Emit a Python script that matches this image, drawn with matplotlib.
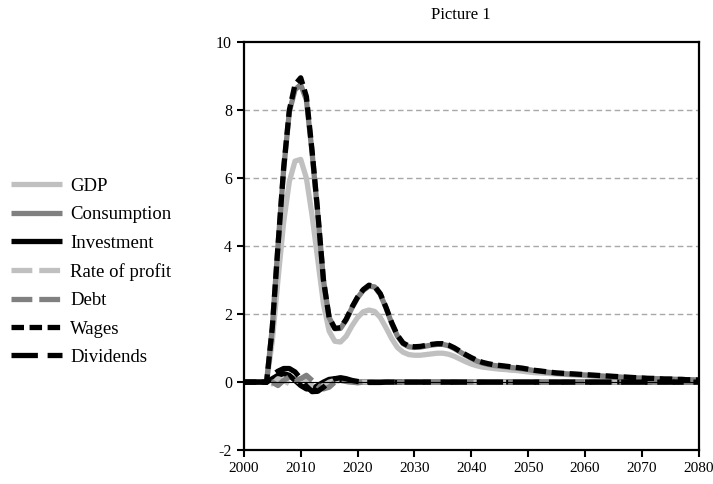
import numpy as np
import matplotlib
matplotlib.use("Agg")
import matplotlib.pyplot as plt

plt.rcParams["font.family"] = ["Liberation Serif", "DejaVu Serif"]
plt.rcParams["lines.scale_dashes"] = False
plt.rcParams["axes.unicode_minus"] = False

# annual data 2000-2080
years = np.arange(2000, 2081)

gdp = [
    0.00, 0.00, 0.00, 0.00, 0.00, 1.20, 3.00, 4.70, 5.90, 6.50,
    6.55, 6.00, 4.90, 3.60, 2.30, 1.50, 1.20, 1.18, 1.35, 1.65,
    1.90, 2.07, 2.12, 2.08, 1.90, 1.60, 1.28, 1.02, 0.88, 0.81,
    0.79, 0.79, 0.81, 0.83, 0.85, 0.85, 0.82, 0.76, 0.68, 0.60,
    0.53, 0.48, 0.44, 0.42, 0.40, 0.38, 0.37, 0.35, 0.34, 0.32,
    0.30, 0.28, 0.27, 0.26, 0.25, 0.24, 0.23, 0.22, 0.21, 0.20,
    0.19, 0.18, 0.17, 0.16, 0.15, 0.14, 0.14, 0.13, 0.12, 0.12,
    0.11, 0.10, 0.10, 0.09, 0.09, 0.08, 0.08, 0.07, 0.07, 0.06,
    0.06,
]
consumption = [
    0.00, 0.00, 0.00, 0.00, 0.00, 1.60, 4.00, 6.25, 7.95, 8.60,
    8.75, 8.30, 6.75, 4.95, 3.00, 1.90, 1.57, 1.58, 1.83, 2.18,
    2.48, 2.70, 2.82, 2.80, 2.58, 2.18, 1.73, 1.36, 1.13, 1.04,
    1.02, 1.03, 1.06, 1.09, 1.11, 1.11, 1.07, 0.99, 0.89, 0.79,
    0.70, 0.62, 0.56, 0.52, 0.49, 0.47, 0.45, 0.43, 0.41, 0.39,
    0.37, 0.34, 0.32, 0.30, 0.28, 0.26, 0.25, 0.24, 0.23, 0.22,
    0.21, 0.20, 0.19, 0.18, 0.17, 0.16, 0.15, 0.14, 0.13, 0.12,
    0.12, 0.11, 0.10, 0.10, 0.09, 0.09, 0.08, 0.08, 0.07, 0.07,
    0.06,
]
investment = [
    0.00, 0.00, 0.00, 0.00, 0.00, 0.10, 0.20, 0.25, 0.20, 0.05,
    -0.10, -0.20, -0.20, -0.10, 0.00, 0.08, 0.10, 0.08, 0.04, 0.02,
    0.00, 0.00, 0.00, 0.00, 0.00, 0.00, 0.00, 0.00, 0.00, 0.00,
    0.00, 0.00, 0.00, 0.00, 0.00, 0.00, 0.00, 0.00, 0.00, 0.00,
    0.00, 0.00, 0.00, 0.00, 0.00, 0.00, 0.00, 0.00, 0.00, 0.00,
    0.00, 0.00, 0.00, 0.00, 0.00, 0.00, 0.00, 0.00, 0.00, 0.00,
    0.00, 0.00, 0.00, 0.00, 0.00, 0.00, 0.00, 0.00, 0.00, 0.00,
    0.00, 0.00, 0.00, 0.00, 0.00, 0.00, 0.00, 0.00, 0.00, 0.00,
    0.00,
]
rate_of_profit = [
    0.00, 0.00, 0.00, 0.00, 0.00, -0.05, 0.10, 0.05, -0.05, 0.00,
    0.10, 0.05, -0.10, -0.15, -0.10, 0.00, 0.05, 0.03, 0.01, 0.00,
    0.00, 0.00, 0.00, 0.00, 0.00, 0.00, 0.00, 0.00, 0.00, 0.00,
    0.00, 0.00, 0.00, 0.00, 0.00, 0.00, 0.00, 0.00, 0.00, 0.00,
    0.00, 0.00, 0.00, 0.00, 0.00, 0.00, 0.00, 0.00, 0.00, 0.00,
    0.00, 0.00, 0.00, 0.00, 0.00, 0.00, 0.00, 0.00, 0.00, 0.00,
    0.00, 0.00, 0.00, 0.00, 0.00, 0.00, 0.00, 0.00, 0.00, 0.00,
    0.00, 0.00, 0.00, 0.00, 0.00, 0.00, 0.00, 0.00, 0.00, 0.00,
    0.00,
]
debt = [
    0.00, 0.00, 0.00, 0.00, 0.00, 0.00, -0.10, 0.05, 0.15, 0.05,
    0.10, 0.20, 0.05, -0.10, -0.20, -0.15, 0.00, 0.05, 0.02, 0.00,
    -0.02, 0.00, 0.00, 0.00, 0.00, 0.00, 0.00, 0.00, 0.00, 0.00,
    0.00, 0.00, 0.00, 0.00, 0.00, 0.00, 0.00, 0.00, 0.00, 0.00,
    0.00, 0.00, 0.00, 0.00, 0.00, 0.00, 0.00, 0.00, 0.00, 0.00,
    0.00, 0.00, 0.00, 0.00, 0.00, 0.00, 0.00, 0.00, 0.00, 0.00,
    0.00, 0.00, 0.00, 0.00, 0.00, 0.00, 0.00, 0.00, 0.00, 0.00,
    0.00, 0.00, 0.00, 0.00, 0.00, 0.00, 0.00, 0.00, 0.00, 0.00,
    0.00,
]
wages = [
    0.00, 0.00, 0.00, 0.00, 0.00, 1.60, 4.00, 6.30, 8.00, 8.75,
    8.95, 8.40, 6.80, 5.00, 3.00, 1.90, 1.58, 1.60, 1.85, 2.20,
    2.50, 2.72, 2.85, 2.82, 2.60, 2.20, 1.75, 1.38, 1.15, 1.06,
    1.04, 1.05, 1.08, 1.11, 1.13, 1.13, 1.09, 1.01, 0.91, 0.81,
    0.72, 0.64, 0.58, 0.54, 0.51, 0.49, 0.47, 0.45, 0.43, 0.41,
    0.38, 0.35, 0.33, 0.31, 0.29, 0.27, 0.26, 0.25, 0.24, 0.23,
    0.22, 0.21, 0.20, 0.19, 0.18, 0.17, 0.16, 0.15, 0.14, 0.13,
    0.12, 0.11, 0.11, 0.10, 0.09, 0.09, 0.08, 0.08, 0.07, 0.07,
    0.06,
]
dividends = [
    0.00, 0.00, 0.00, 0.00, 0.00, 0.20, 0.32, 0.40, 0.40, 0.30,
    0.10, -0.12, -0.28, -0.27, -0.15, 0.00, 0.10, 0.13, 0.10, 0.05,
    0.02, 0.00, -0.01, -0.01, -0.01, 0.00, 0.00, 0.00, 0.00, 0.00,
    0.00, 0.00, 0.00, 0.00, 0.00, 0.00, 0.00, 0.00, 0.00, 0.00,
    0.00, 0.00, 0.00, 0.00, 0.00, 0.00, 0.00, 0.00, 0.00, 0.00,
    0.00, 0.00, 0.00, 0.00, 0.00, 0.00, 0.00, 0.00, 0.00, 0.00,
    0.00, 0.00, 0.00, 0.00, 0.00, 0.00, 0.00, 0.00, 0.00, 0.00,
    0.00, 0.00, 0.00, 0.00, 0.00, 0.00, 0.00, 0.00, 0.00, 0.00,
    0.00,
]

series = [
    ("GDP", gdp, "#c0c0c0", "-"),
    ("Consumption", consumption, "#808080", "-"),
    ("Investment", investment, "black", "-"),
    ("Rate of profit", rate_of_profit, "#c0c0c0", (0, (15, 5))),
    ("Debt", debt, "#808080", (0, (15, 5))),
    ("Wages", wages, "black", (0, (9, 4))),
    ("Dividends", dividends, "black", (0, (19, 7))),
]

fig = plt.figure(figsize=(7.13, 4.84), dpi=100)
ax = fig.add_axes([0.342, 0.070, 0.638, 0.843])

# grid + zero line, EViews style
for g in [2, 4, 6, 8]:
    ax.axhline(g, color="#a8a8a8", lw=1, linestyle=(0, (4, 2.5)), zorder=0)

for name, vals, col, ls in series:
    ax.plot(years, vals, color=col, linestyle=ls, lw=3.8, label=name,
            solid_capstyle="butt", dash_capstyle="butt")
ax.axhline(0, color="black", lw=0.8, zorder=5)

ax.set_xlim(2000, 2080)
ax.set_ylim(-2, 10)
ax.set_xticks(range(2000, 2081, 10))
ax.set_yticks(range(-2, 11, 2))
ax.tick_params(direction="out", length=5, width=1.5, labelsize=11.5)
ax.tick_params(axis="x", labelsize=11)
for sp in ax.spines.values():
    sp.set_linewidth(1.6)

fig.text(0.647, 0.968, "Picture 1", ha="center", va="center", fontsize=12)

fig.legend(loc="upper left", bbox_to_anchor=(0.005, 0.648), frameon=False,
           fontsize=13.5, handlelength=2.7, handletextpad=0.45,
           labelspacing=0.6, borderaxespad=0)

fig.savefig("out.png", dpi=100)
